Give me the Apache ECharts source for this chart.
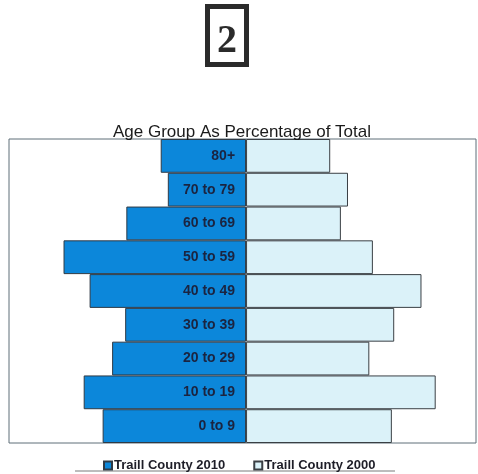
<!DOCTYPE html>
<html>
<head>
<meta charset="utf-8">
<script src="https://cdn.jsdelivr.net/npm/echarts@6/dist/echarts.min.js"></script>
<style>
html,body{margin:0;padding:0;background:#fff;}
#chart{width:478px;height:474px;}
</style>
</head>
<body>
<div id="chart"></div>
<script>
var categories = ['0 to 9','10 to 19','20 to 29','30 to 39','40 to 49','50 to 59','60 to 69','70 to 79','80+'];
var traill2010 = [12.1, 13.7, 11.3, 10.2, 13.2, 15.4, 10.1, 6.6, 7.2];
var traill2000 = [12.3, 16.0, 10.4, 12.5, 14.8, 10.7, 8.0, 8.6, 7.1];
var seriesNames = ['Traill County 2010', 'Traill County 2000'];

var chart = echarts.init(document.getElementById('chart'), null, {renderer:'canvas'});
chart.setOption({
  animation: false,
  backgroundColor: '#ffffff',
  title: {
    text: 'Age Group As Percentage of Total',
    left: 237, top: 119, textAlign: 'center',
    textStyle: {fontFamily: 'Liberation Sans, Arial', fontSize: 17, fontWeight: 'normal', color: '#1a1a1a'}
  },
  legend: {
    data: seriesNames,
    left: 98, top: 454,
    icon: 'rect', itemWidth: 8, itemHeight: 8, itemGap: 28,
    textStyle: {fontFamily: 'Liberation Sans, Arial', fontSize: 13, fontWeight: 'bold', color: '#1e1e28', padding: [0,0,0,-3]}
  },
  grid: {
    left: 9, right: 2, top: 139, bottom: 31,
    show: true, borderColor: '#5f6f78', borderWidth: 1, backgroundColor: 'transparent'
  },
  xAxis: {
    type: 'value', min: -20, max: 19.4, show: false
  },
  yAxis: {
    type: 'category', data: categories, show: false
  },
  graphic: [
    {type: 'rect', shape: {x: 207.5, y: 6.5, width: 39, height: 58}, style: {fill: '#ffffff', stroke: '#2b2b2b', lineWidth: 5}},
    {type: 'text', x: 227, y: 42, style: {text: '2', fontFamily: 'Liberation Serif, Times New Roman', fontWeight: 'bold', fontSize: 40, fill: '#2b2b2b', align: 'center', verticalAlign: 'middle'}},
    {type: 'line', shape: {x1: 75, y1: 471, x2: 395, y2: 471}, style: {stroke: '#7a7a7a', lineWidth: 1}}
  ],
  series: [
    {
      name: seriesNames[0], type: 'bar',
      data: traill2010.map(function(v){return -v;}),
      barCategoryGap: 0, barGap: '-100%',
      itemStyle: {color: '#0c87da', borderColor: '#2f3a45', borderWidth: 1},
      label: {
        show: true, position: 'insideRight', distance: 11,
        formatter: function(p){ return categories[p.dataIndex]; },
        fontFamily: 'Liberation Sans, Arial', fontSize: 14, fontWeight: 'bold', color: '#1b2440'
      }
    },
    {
      name: seriesNames[1], type: 'bar',
      data: traill2000,
      barCategoryGap: 0, barGap: '-100%',
      itemStyle: {color: '#dbf2f9', borderColor: '#3a3f44', borderWidth: 1}
    }
  ]
});
</script>
</body>
</html>
